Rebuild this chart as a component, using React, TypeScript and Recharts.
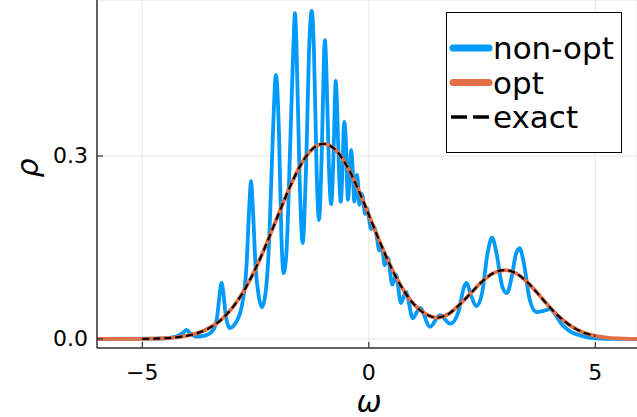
import React from "react";
import { LineChart, Line, XAxis, YAxis, CartesianGrid } from "recharts";

// ω grid shared by the optimized and exact spectra
const omegaGrid = [
  -6, -5.75, -5.5, -5.25, -5, -4.75, -4.5, -4.25, -4, -3.75, -3.5, -3.25, -3,
  -2.75, -2.5, -2.25, -2, -1.75, -1.5, -1.25, -1, -0.75, -0.5, -0.25, 0, 0.25,
  0.5, 0.75, 1, 1.25, 1.5, 1.75, 2, 2.25, 2.5, 2.75, 3, 3.25, 3.5, 3.75, 4,
  4.25, 4.5, 4.75, 5, 5.25, 5.5, 5.75, 6,
];

const optRho = [
  0, 0, 0, 0.0001, 0.0002, 0.0005, 0.0012, 0.0027, 0.0054, 0.0104, 0.0188,
  0.0322, 0.0522, 0.0798, 0.1154, 0.1575, 0.2033, 0.2479, 0.2857, 0.3111, 0.32,
  0.3111, 0.2857, 0.2479, 0.2034, 0.1578, 0.1163, 0.082, 0.0565, 0.041, 0.035,
  0.0405, 0.056, 0.075, 0.094, 0.108, 0.113, 0.1076, 0.093, 0.0728, 0.0517,
  0.0333, 0.0195, 0.0103, 0.005, 0.0022, 0.0009, 0.0003, 0.0001,
];

// exact curve only covers -5 … 5
const exactRho = [
  0.0002, 0.0005, 0.0012, 0.0027, 0.0054, 0.0104, 0.0188, 0.0322, 0.0522,
  0.0798, 0.1154, 0.1575, 0.2033, 0.2479, 0.2857, 0.3111, 0.32, 0.3111, 0.2857,
  0.2479, 0.2034, 0.1578, 0.1163, 0.082, 0.0565, 0.041, 0.035, 0.0405, 0.056,
  0.075, 0.094, 0.108, 0.113, 0.1076, 0.093, 0.0728, 0.0517, 0.0333, 0.0195,
  0.0103, 0.005,
];

const nonOptOmega = [
  -6, -4.6, -4.25, -4.1, -4.02, -3.94, -3.8, -3.6, -3.45, -3.35, -3.29, -3.25,
  -3.21, -3.15, -3.07, -2.95, -2.8, -2.7, -2.64, -2.6, -2.56, -2.5, -2.43,
  -2.36, -2.28, -2.2, -2.12, -2.05, -1.98, -1.93, -1.88, -1.82, -1.73, -1.66,
  -1.63, -1.6, -1.53, -1.46, -1.39, -1.31, -1.26, -1.21, -1.15, -1.1, -1.04,
  -0.99, -0.97, -0.94, -0.88, -0.83, -0.78, -0.74, -0.73, -0.71, -0.66, -0.62,
  -0.58, -0.55, -0.54, -0.51, -0.46, -0.42, -0.39, -0.35, -0.32, -0.28, -0.26,
  -0.23, -0.21, -0.17, -0.15, -0.12, -0.08, -0.04, 0, 0.05, 0.1, 0.17, 0.23,
  0.29, 0.35, 0.42, 0.52, 0.6, 0.71, 0.82, 0.97, 1.13, 1.35, 1.57, 1.8, 1.98,
  2.1, 2.16, 2.24, 2.38, 2.5, 2.62, 2.72, 2.82, 2.95, 3.05, 3.15, 3.25, 3.33,
  3.42, 3.55, 3.7, 3.85, 4, 4.1, 4.25, 4.45, 4.7, 5, 5.5, 6,
];

const nonOptRho = [
  0, 0.0005, 0.004, 0.01, 0.015, 0.009, 0.004, 0.006, 0.013, 0.035, 0.075,
  0.092, 0.075, 0.035, 0.018, 0.025, 0.055, 0.12, 0.215, 0.259, 0.215, 0.12,
  0.07, 0.052, 0.075, 0.16, 0.33, 0.433, 0.33, 0.17, 0.108, 0.14, 0.33, 0.49,
  0.534, 0.49, 0.27, 0.157, 0.27, 0.49, 0.538, 0.47, 0.27, 0.195, 0.3, 0.46,
  0.49, 0.45, 0.28, 0.221, 0.3, 0.41, 0.423, 0.4, 0.28, 0.225, 0.28, 0.35,
  0.356, 0.33, 0.228, 0.27, 0.31, 0.27, 0.225, 0.255, 0.269, 0.245, 0.22,
  0.232, 0.238, 0.225, 0.205, 0.215, 0.2, 0.18, 0.185, 0.17, 0.145, 0.151,
  0.121, 0.133, 0.089, 0.105, 0.059, 0.077, 0.034, 0.051, 0.02, 0.039, 0.025,
  0.045, 0.085, 0.092, 0.075, 0.054, 0.075, 0.14, 0.166, 0.14, 0.085, 0.075,
  0.1, 0.14, 0.149, 0.125, 0.065, 0.044, 0.046, 0.049, 0.042, 0.025, 0.012,
  0.005, 0.001, 0, 0,
];

const xTicks = [-5, 0, 5];
const yTicks = [0, 0.3];

const BLUE = "#009AFA";
const ORANGE = "#E26F46";
const FONT = "DejaVu Sans";

const optData = omegaGrid.map((x, i) => ({ x, y: optRho[i] }));
const exactData = omegaGrid
  .slice(4, 45)
  .map((x, i) => ({ x, y: exactRho[i] }));
const nonOptData = nonOptOmega.map((x, i) => ({ x, y: nonOptRho[i] }));

// eslint-disable-next-line @typescript-eslint/no-explicit-any
function XTick({ x, y, payload }: any) {
  const v = payload.value;
  const label = v < 0 ? `\u2212${Math.abs(v)}` : `${v}`;
  return (
    <g>
      <line x1={x} x2={x} y1={y} y2={y - 6} stroke="#333" strokeWidth={1.2} />
      <text
        x={x}
        y={y + 24}
        textAnchor="middle"
        dominantBaseline="central"
        fontFamily={FONT}
        fontSize={22}
        fill="#000"
      >
        {label}
      </text>
    </g>
  );
}

// eslint-disable-next-line @typescript-eslint/no-explicit-any
function YTick({ x, y, payload }: any) {
  return (
    <g>
      <line x1={x} x2={x + 6} y1={y} y2={y} stroke="#333" strokeWidth={1.2} />
      <text
        x={x - 9}
        y={y}
        textAnchor="end"
        dominantBaseline="central"
        fontFamily={FONT}
        fontSize={22}
        fill="#000"
      >
        {payload.value.toFixed(1)}
      </text>
    </g>
  );
}

// eslint-disable-next-line @typescript-eslint/no-explicit-any
function OmegaLabel({ viewBox }: any) {
  return (
    <text
      x={viewBox.x + 272}
      y={viewBox.y + 53}
      textAnchor="middle"
      dominantBaseline="central"
      fontFamily={FONT}
      fontSize={30}
      fontStyle="italic"
      fill="#000"
    >
      ω
    </text>
  );
}

// eslint-disable-next-line @typescript-eslint/no-explicit-any
function RhoLabel({ viewBox }: any) {
  const cx = 27;
  const cy = viewBox.y + 168;
  return (
    <text
      x={cx}
      y={cy}
      transform={`rotate(-90 ${cx} ${cy})`}
      textAnchor="middle"
      dominantBaseline="central"
      fontFamily={FONT}
      fontSize={30}
      fontStyle="italic"
      fill="#000"
    >
      ρ
    </text>
  );
}

function LegendBox() {
  const rows = [
    { name: "non-opt", color: BLUE, width: 7, dash: undefined },
    { name: "opt", color: ORANGE, width: 7, dash: undefined },
    { name: "exact", color: "#000", width: 3.5, dash: "16 6" },
  ];
  return (
    <svg
      width={177}
      height={142}
      style={{ position: "absolute", left: 446, top: 12 }}
    >
      <rect x={0.5} y={0.5} width={175} height={140} fill="#fff" stroke="#000" strokeWidth={1} />
      {rows.map((r, i) => (
        <g key={r.name}>
          <line
            x1={r.dash ? 5 : 7}
            x2={r.dash ? 44 : 43}
            y1={36 + i * 34.5}
            y2={36 + i * 34.5}
            stroke={r.color}
            strokeWidth={r.width}
            strokeDasharray={r.dash}
            strokeLinecap={r.dash ? "butt" : "round"}
          />
          <text
            x={47}
            y={47 + i * 34.5}
            fontFamily={FONT}
            fontSize={31}
            fill="#000"
          >
            {r.name}
          </text>
        </g>
      ))}
    </svg>
  );
}

export default function App() {
  return (
    <div style={{ position: "absolute", left: 0, top: 0, width: 637, height: 417, background: "#fff" }}>
      <LineChart
        width={637}
        height={417}
        margin={{ top: 0, right: 0, bottom: 0, left: 0 }}
      >
        <CartesianGrid stroke="#e6e6e6" strokeWidth={1} />
        <XAxis
          dataKey="x"
          type="number"
          domain={[-6, 5.92]}
          allowDataOverflow
          ticks={xTicks}
          height={69}
          tickSize={0}
          tickMargin={0}
          tickLine={false}
          axisLine={{ stroke: "#333", strokeWidth: 1.5 }}
          tick={<XTick />}
          label={<OmegaLabel />}
        />
        <YAxis
          type="number"
          domain={[-0.0148, 0.5557]}
          allowDataOverflow
          ticks={yTicks}
          width={97}
          tickSize={0}
          tickMargin={0}
          tickLine={false}
          axisLine={{ stroke: "#333", strokeWidth: 1.5 }}
          tick={<YTick />}
          label={<RhoLabel />}
        />
        <Line
          data={nonOptData}
          dataKey="y"
          type="monotone"
          stroke={BLUE}
          strokeWidth={3.8}
          dot={false}
          isAnimationActive={false}
        />
        <Line
          data={optData}
          dataKey="y"
          type="monotone"
          stroke={ORANGE}
          strokeWidth={3.8}
          dot={false}
          isAnimationActive={false}
        />
        <Line
          data={exactData}
          dataKey="y"
          type="monotone"
          stroke="#000"
          strokeWidth={2.2}
          strokeDasharray="7 4"
          dot={false}
          isAnimationActive={false}
        />
      </LineChart>
      <LegendBox />
    </div>
  );
}
